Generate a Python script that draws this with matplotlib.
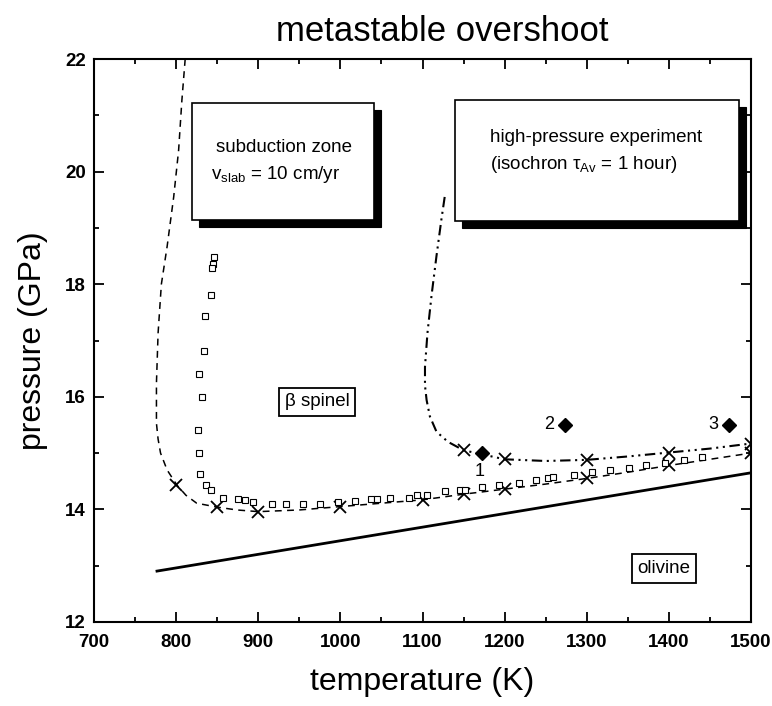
import matplotlib
matplotlib.use("Agg")
import matplotlib.pyplot as plt
from matplotlib.patches import Rectangle
from matplotlib.ticker import MultipleLocator
from matplotlib.transforms import offset_copy

plt.rcParams['font.family'] = ['Liberation Sans', 'DejaVu Sans']

# olivine / beta-spinel equilibrium boundary
eq_T = [775, 1500]
eq_P = [12.9, 14.65]

# subduction-zone overshoot curve (v_slab = 10 cm/yr)
sub_T = [811, 807, 803, 797, 789, 782, 778, 776, 776, 778, 781, 789, 801, 812, 825,
         850, 874, 900, 950, 1000, 1050, 1100, 1150, 1200, 1250, 1300, 1350, 1400,
         1450, 1500]
sub_P = [22.0, 21.27, 20.38, 19.55, 18.67, 18.0, 17.13, 16.24, 15.53, 15.25, 15.0,
         14.70, 14.43, 14.25, 14.11, 14.04, 13.99, 13.96, 13.99, 14.05, 14.11, 14.17,
         14.27, 14.36, 14.45, 14.55, 14.66, 14.78, 14.89, 15.0]
sub_xT = [800, 850, 900, 1000, 1100, 1150, 1200, 1300, 1400, 1500]
sub_xP = [14.43, 14.04, 13.96, 14.05, 14.17, 14.27, 14.36, 14.55, 14.78, 15.0]

# subduction-zone model points
sq_T = [846, 845, 844, 842, 835, 834, 828, 832, 826, 828, 829, 836, 842, 857, 875,
        884, 894, 917, 934, 954, 975, 997, 1018, 1037, 1045, 1061, 1083, 1093, 1105,
        1127, 1146, 1152, 1172, 1193, 1217, 1238, 1253, 1259, 1284, 1306, 1328, 1351,
        1372, 1395, 1418, 1440]
sq_P = [18.49, 18.36, 18.29, 17.81, 17.44, 16.82, 16.40, 16.00, 15.41, 15.01, 14.62,
        14.43, 14.34, 14.21, 14.18, 14.17, 14.14, 14.10, 14.10, 14.10, 14.10, 14.14,
        14.15, 14.18, 14.19, 14.21, 14.21, 14.26, 14.26, 14.32, 14.34, 14.35, 14.39,
        14.43, 14.47, 14.52, 14.55, 14.57, 14.61, 14.67, 14.70, 14.73, 14.79, 14.83,
        14.88, 14.93]

# high-pressure experiment isochron (tau_Av = 1 hour)
exp_T = [1127, 1123, 1117, 1111, 1106, 1103, 1103, 1105, 1109, 1117, 1131, 1150,
         1175, 1200, 1250, 1300, 1350, 1400, 1450, 1500]
exp_P = [19.55, 19.15, 18.5, 17.8, 17.13, 16.53, 16.2, 15.94, 15.65, 15.38, 15.2,
         15.05, 14.97, 14.89, 14.86, 14.88, 14.94, 15.01, 15.08, 15.17]
exp_xT = [1150, 1200, 1300, 1400, 1500]
exp_xP = [15.05, 14.89, 14.88, 15.01, 15.17]

# experimental runs
run_T = [1173, 1273, 1473]
run_P = [15.0, 15.5, 15.5]
run_labels = ['1', '2', '3']

x_ticks = [700, 800, 900, 1000, 1100, 1200, 1300, 1400, 1500]
y_ticks = [12, 14, 16, 18, 20, 22]

fig = plt.figure(figsize=(7.72, 7.06), dpi=100)
ax = fig.add_axes([0.1218, 0.119, 0.851, 0.7974])

ax.plot(eq_T, eq_P, color='black', lw=2.0, solid_capstyle='butt')
ax.plot(sub_T, sub_P, color='black', lw=1.1, linestyle=(0, (4.5, 3.5)))
ax.plot(sub_xT, sub_xP, linestyle='none', marker='x', ms=8, mew=1.3, color='black')
ax.plot(sq_T, sq_P, linestyle='none', marker='s', ms=4.3, mfc='white', mec='black',
        mew=0.8)
ax.plot(exp_T, exp_P, color='black', lw=1.5,
        linestyle=(0, (5, 2.2, 1, 2.2, 1, 2.2)))
ax.plot(exp_xT, exp_xP, linestyle='none', marker='x', ms=8, mew=1.3, color='black')
ax.plot(run_T, run_P, linestyle='none', marker='D', ms=7, color='black', clip_on=False)

for t, p, lab in zip(run_T, run_P, run_labels):
    off = (-2, -13) if lab == '1' else (-11, 0)
    ax.annotate(lab, (t, p), xytext=off, textcoords='offset points',
                ha='center', va='center', fontsize=13)


def shadow_box(x0, y0, x1, y1):
    shadow = Rectangle((x0, y0), x1 - x0, y1 - y0, facecolor='black',
                       edgecolor='black', lw=0.8, zorder=5,
                       transform=offset_copy(ax.transData, fig=fig, x=7, y=-7,
                                             units='dots'))
    ax.add_patch(shadow)
    ax.add_patch(Rectangle((x0, y0), x1 - x0, y1 - y0, facecolor='white',
                           edgecolor='black', lw=1.2, zorder=6))


shadow_box(819, 19.14, 1041, 21.22)
ax.text(848, 20.42, 'subduction zone', fontsize=13.5, ha='left', va='center',
        zorder=7)
ax.text(843, 19.95, r'v$_{\mathregular{slab}}$ = 10 cm/yr', fontsize=13.5,
        ha='left', va='center', zorder=7)

shadow_box(1139, 19.12, 1485, 21.28)
ax.text(1182, 20.6, 'high-pressure experiment', fontsize=13.5, ha='left',
        va='center', zorder=7)
ax.text(1182, 20.13, r'(isochron $\mathregular{\tau}_{\mathregular{Av}}$ = 1 hour)',
        fontsize=13.5, ha='left', va='center', zorder=7)

ax.text(972, 15.91, 'β spinel', fontsize=13.5, ha='center', va='center',
        bbox=dict(boxstyle='square,pad=0.3', fc='white', ec='black', lw=1.3))
ax.text(1394, 12.95, 'olivine', fontsize=13.5, ha='center', va='center',
        bbox=dict(boxstyle='square,pad=0.3', fc='white', ec='black', lw=1.3))

ax.set_xlim(700, 1500)
ax.set_ylim(12, 22)
ax.set_xticks(x_ticks)
ax.set_yticks(y_ticks)
ax.xaxis.set_minor_locator(MultipleLocator(50))
ax.yaxis.set_minor_locator(MultipleLocator(1))
ax.tick_params(which='both', direction='in', top=True, right=True, width=1.3)
ax.tick_params(which='major', length=7, labelsize=13.5)
ax.tick_params(axis='x', which='major', pad=9)
ax.tick_params(axis='y', which='major', pad=6)
ax.tick_params(which='minor', length=3.5)
for lab in ax.get_xticklabels() + ax.get_yticklabels():
    lab.set_fontweight('bold')
for s in ax.spines.values():
    s.set_linewidth(1.5)

ax.set_xlabel('temperature (K)', fontsize=23, labelpad=11)
ax.set_ylabel('pressure (GPa)', fontsize=23, labelpad=12)
fig.text(0.573, 0.955, 'metastable overshoot', fontsize=25, ha='center',
         va='center')

fig.savefig('out.png', dpi=100)
